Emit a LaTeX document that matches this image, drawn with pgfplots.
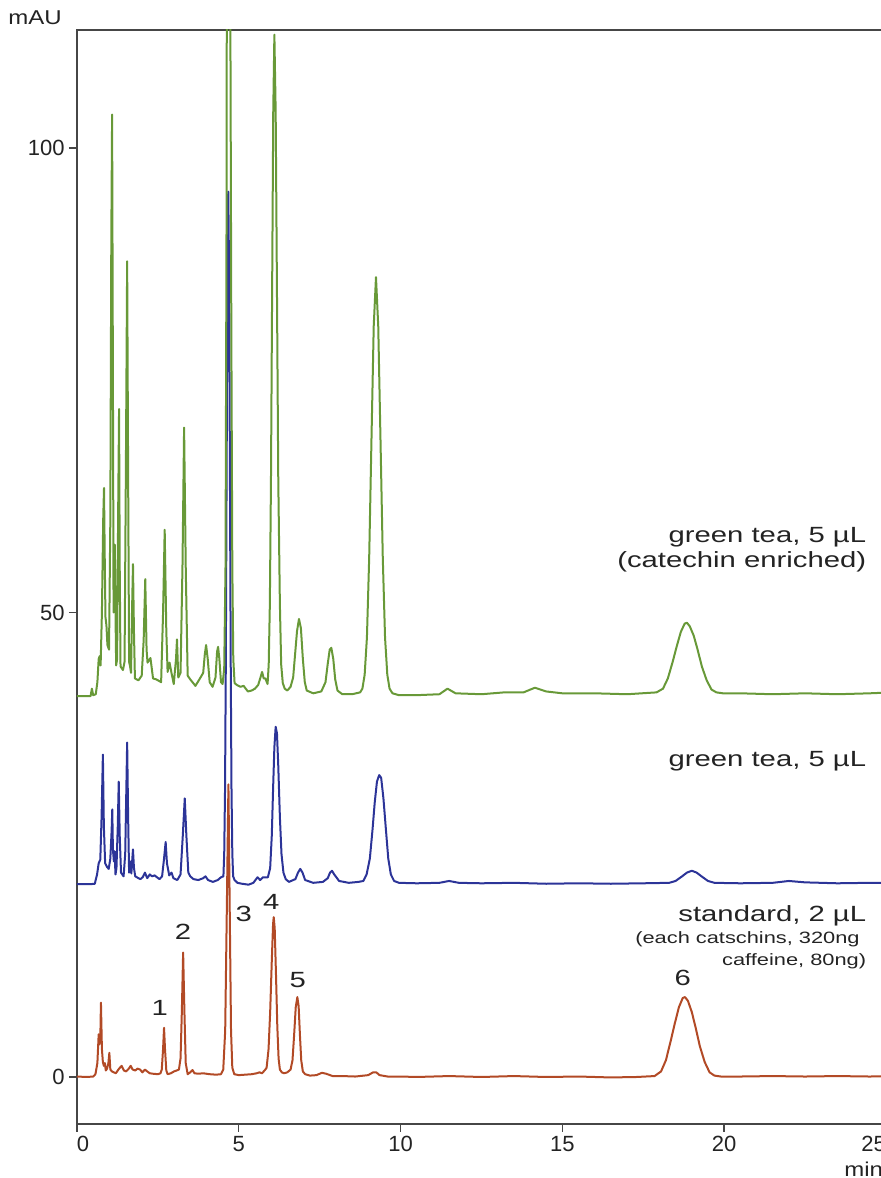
\documentclass[border=0pt]{standalone}
\usepackage{fontspec}
\setmainfont{Liberation Sans}
\newfontfamily\af[FakeStretch=1.33]{Liberation Sans}
\newfontfamily\mf[FakeStretch=1.2]{Liberation Sans}
\usepackage{pgfplots}
\pgfplotsset{compat=1.18}
\definecolor{cgreen}{RGB}{104,153,56}
\definecolor{cblue}{RGB}{44,52,152}
\definecolor{cred}{RGB}{178,74,38}
\definecolor{cax}{RGB}{70,70,70}
\definecolor{ctxt}{RGB}{35,35,35}
\tikzset{
    lbl/.style={inner sep=0pt, text=ctxt, font=\af\fontsize{11}{13}\selectfont},
    sml/.style={inner sep=0pt, text=ctxt, font=\af\fontsize{8.2}{10}\selectfont},
}

\begin{document}
\begin{tikzpicture}
\begin{axis}[
    at={(0,0)}, anchor=south west,
    scale only axis, width=407.7pt, height=547pt,
    xmin=0, xmax=25.2, ymin=-5.06, ymax=112.7,
    xtick={0,5,10,15,20,25},
    xticklabels={{\makebox[0pt][l]{0}},5,10,15,20,{\makebox[0pt][r]{25}}},
    ytick={0,50,100},
    tick pos=left,
    tick align=outside,
    major tick length=4pt,
    axis line style={cax, line width=0.7pt},
    tick style={cax, line width=0.7pt},
    ticklabel style={font=\fontsize{11}{13}\selectfont, text=ctxt, inner sep=2pt},
    /pgf/number format/assume math mode=true,
    clip mode=individual,
    every axis plot/.append style={line width=1pt, line join=round},
]
% standard, 2 uL
\addplot[cred] coordinates {
(0,0.05)(0.3,0.0)(0.5,0.05)(0.57,0.3)(0.63,1.5)(0.67,4.6)(0.69,3.5)(0.72,4.0)(0.74,8.0)(0.77,3.0)
(0.80,1.6)(0.83,1.2)(0.86,1.5)(0.89,0.7)(0.93,0.9)(0.97,1.5)(1.00,2.6)(1.03,0.8)(1.08,0.6)(1.2,0.4)
(1.3,0.9)(1.38,1.2)(1.45,0.7)(1.52,0.6)(1.6,0.9)(1.66,1.2)(1.72,0.8)(1.8,0.7)(1.87,0.9)(1.95,0.8)
(2.02,0.5)(2.1,0.8)(2.17,0.6)(2.25,0.4)(2.35,0.35)(2.5,0.3)(2.58,0.4)(2.62,0.8)(2.66,3.0)(2.69,5.3)
(2.72,3.0)(2.76,0.7)(2.8,0.3)(2.9,0.4)(3.0,0.6)(3.08,0.7)(3.15,0.8)(3.2,2.0)(3.24,7.0)(3.28,13.4)
(3.32,7.0)(3.36,1.5)(3.42,0.3)(3.5,0.5)(3.57,0.75)(3.63,0.4)(3.75,0.35)(3.9,0.4)(4.1,0.3)(4.3,0.25)
(4.45,0.3)(4.52,0.8)(4.58,5)(4.63,18)(4.68,31.5)(4.72,18)(4.76,5)(4.8,1.0)(4.86,0.3)(5.0,0.2)
(5.2,0.25)(5.4,0.3)(5.55,0.4)(5.64,0.5)(5.72,0.4)(5.82,0.8)(5.86,1.0)(5.92,3.0)(5.97,7.0)(6.02,12.5)
(6.06,16.5)(6.08,17.2)(6.11,16.0)(6.15,11)(6.19,5.5)(6.23,2.0)(6.27,0.8)(6.33,0.5)(6.4,0.4)(6.5,0.5)
(6.6,0.8)(6.66,1.8)(6.71,4.5)(6.76,7.5)(6.81,8.6)(6.85,7.6)(6.89,4.5)(6.93,1.8)(6.98,0.6)(7.05,0.3)
(7.2,0.15)(7.4,0.2)(7.57,0.45)(7.7,0.35)(7.9,0.1)(8.2,0.1)(8.6,0.05)(9.0,0.2)(9.15,0.5)(9.25,0.5)
(9.35,0.2)(9.6,0.05)(10,0.05)(10.5,0.0)(11.5,0.1)(12.5,0.0)(13.5,0.1)(14.5,0.0)(15.5,0.05)(16.5,-0.05)
(17.3,0.0)(17.85,0.1)(18.05,0.6)(18.2,1.8)(18.35,3.9)(18.47,5.7)(18.6,7.5)(18.72,8.5)(18.79,8.6)(18.88,8.2)
(19.0,7.0)(19.12,5.3)(19.25,3.3)(19.4,1.6)(19.55,0.5)(19.7,0.15)(19.9,0.05)(20.5,0.05)(21.5,0.1)(22.5,0.05)
(23.5,0.1)(24.5,0.05)(25.2,0.1)
};
% green tea, 5 uL
\addplot[cblue] coordinates {
(0,20.75)(0.4,20.75)(0.55,20.8)(0.62,21.8)(0.67,23.0)(0.72,23.4)(0.76,28)(0.80,34.7)(0.83,27)(0.87,23.0)
(0.93,22.6)(0.98,22.4)(1.03,23.5)(1.07,26.5)(1.09,28.8)(1.11,24.5)(1.14,23.2)(1.16,24.3)(1.19,21.8)(1.22,22.5)
(1.26,27)(1.29,31.8)(1.32,26)(1.36,22.0)(1.44,21.6)(1.49,24)(1.52,30)(1.55,36.0)(1.58,28)(1.61,22.0)
(1.65,23.2)(1.68,21.9)(1.71,23.5)(1.73,24.5)(1.76,22.5)(1.8,21.6)(1.9,21.4)(1.96,21.3)(2.03,21.5)(2.1,22.0)
(2.17,21.4)(2.25,21.8)(2.32,21.6)(2.4,21.7)(2.47,21.5)(2.55,21.3)(2.63,21.6)(2.69,23.5)(2.74,25.3)(2.78,23.0)
(2.85,21.7)(2.92,22.0)(2.98,21.4)(3.1,21.2)(3.2,21.8)(3.27,26)(3.33,30.0)(3.38,26)(3.44,22.0)(3.5,21.6)
(3.6,21.3)(3.75,21.2)(3.9,21.4)(3.97,21.6)(4.05,21.2)(4.2,21.0)(4.35,21.2)(4.45,21.5)(4.525,21.6)(4.55,24.1)
(4.575,30.9)(4.6,45.0)(4.625,66.0)(4.65,86.5)(4.675,95.3)(4.70,86.5)(4.725,66.0)(4.75,45)(4.775,30.9)(4.80,24.1)
(4.825,21.6)(4.87,21.2)(4.96,20.9)(5.1,20.8)(5.3,20.7)(5.45,20.9)(5.58,21.5)(5.66,21.2)(5.75,21.5)(5.9,21.5)
(5.97,22.5)(6.02,26)(6.06,31)(6.1,35.5)(6.14,37.7)(6.18,37.0)(6.22,33.5)(6.27,28)(6.32,24)(6.38,22)
(6.45,21.3)(6.55,21.0)(6.75,21.3)(6.83,22.0)(6.9,22.4)(6.97,22.0)(7.05,21.2)(7.3,20.9)(7.6,21.0)(7.75,21.4)
(7.82,22.0)(7.88,22.2)(7.95,21.8)(8.1,21.1)(8.4,20.9)(8.7,21.0)(8.85,21.1)(8.95,21.8)(9.05,23.5)(9.13,26.5)
(9.2,29.5)(9.27,31.8)(9.34,32.5)(9.4,32.2)(9.47,30)(9.55,26.5)(9.62,23.5)(9.7,21.8)(9.8,21.1)(9.95,20.9)
(10.5,20.85)(11.2,20.9)(11.5,21.1)(11.8,20.9)(12.5,20.85)(13.5,20.9)(14.5,20.8)(15.5,20.85)(16.5,20.8)(17.5,20.85)
(18.3,20.9)(18.5,21.1)(18.7,21.6)(18.85,22.0)(19.0,22.2)(19.15,22.0)(19.3,21.6)(19.5,21.1)(19.7,20.9)(20.5,20.85)
(21.5,20.9)(22.0,21.1)(22.5,20.95)(23.5,20.85)(24.5,20.9)(25.2,20.9)
};
% green tea, 5 uL (catechin enriched)
\addplot[cgreen] coordinates {
(0,41.0)(0.42,41.0)(0.46,41.8)(0.5,41.1)(0.58,41.2)(0.63,42.5)(0.67,45.0)(0.7,45.3)(0.73,44.3)(0.77,50)
(0.81,60)(0.835,63.4)(0.86,55)(0.88,49.5)(0.91,48.6)(0.94,46.5)(0.99,46.0)(1.03,60)(1.06,90)(1.085,103.6)
(1.11,75)(1.13,50)(1.15,55)(1.17,57.3)(1.19,50)(1.21,44.3)(1.24,45)(1.27,60)(1.30,71.9)(1.32,55)
(1.345,44.2)(1.42,43.8)(1.47,44.7)(1.51,65)(1.55,87.8)(1.58,65)(1.61,44.7)(1.64,44.2)(1.67,43.5)(1.7,50)
(1.73,55.2)(1.76,48)(1.79,42.9)(1.9,42.7)(2.0,43.2)(2.06,47)(2.11,53.6)(2.15,46)(2.18,44.6)(2.27,45.1)
(2.35,42.9)(2.45,42.8)(2.6,42.5)(2.66,50)(2.71,58.9)(2.76,48)(2.8,43.6)(2.86,44.6)(2.92,43.5)(2.99,42.3)
(3.06,45)(3.09,47.1)(3.13,43.0)(3.2,43.5)(3.26,55)(3.31,69.9)(3.36,55)(3.42,43.2)(3.5,42.8)(3.66,42.1)
(3.8,42.9)(3.9,43.5)(3.95,45.5)(3.99,46.5)(4.04,45)(4.1,42.5)(4.19,42.0)(4.28,43.0)(4.33,45.8)(4.36,46.3)
(4.4,45)(4.45,42.5)(4.5,42.3)(4.55,44)(4.59,55)(4.62,90)(4.635,130)(4.675,150)(4.73,125)(4.77,80)
(4.80,55)(4.83,45)(4.87,42.4)(4.94,42.2)(5.05,42.0)(5.15,42.1)(5.28,41.5)(5.4,41.6)(5.5,41.8)(5.6,42.2)
(5.67,43.0)(5.72,43.6)(5.77,42.9)(5.82,42.9)(5.89,42.3)(5.925,44.4)(5.96,50.9)(5.995,64.4)(6.03,84.4)(6.065,103.9)
(6.10,112.2)(6.14,103.9)(6.18,84.4)(6.22,64.4)(6.27,50.9)(6.31,44.4)(6.36,42.4)(6.42,41.8)(6.5,41.6)(6.6,42.0)
(6.68,43)(6.74,45.5)(6.8,48)(6.86,49.3)(6.92,48.3)(6.98,45)(7.04,42.5)(7.1,41.6)(7.3,41.3)(7.55,41.5)
(7.68,42.5)(7.75,44.5)(7.81,46)(7.86,46.2)(7.92,45)(7.98,42.8)(8.05,41.6)(8.2,41.2)(8.5,41.2)(8.75,41.4)
(8.82,41.8)(8.89,43.3)(8.96,47.3)(9.03,55.9)(9.10,68.5)(9.17,80.8)(9.24,86.1)(9.31,80.8)(9.38,68.5)(9.45,55.9)
(9.52,47.3)(9.59,43.3)(9.66,41.8)(9.75,41.3)(9.95,41.1)(10.5,41.1)(11.2,41.2)(11.45,41.8)(11.7,41.3)(12.5,41.2)
(13.2,41.4)(13.8,41.4)(14.15,41.9)(14.5,41.5)(15,41.3)(16,41.3)(17,41.2)(17.91,41.4)(18.11,41.8)(18.26,42.9)
(18.41,44.7)(18.53,46.3)(18.66,47.9)(18.78,48.8)(18.85,48.9)(18.94,48.5)(19.06,47.5)(19.18,46.0)(19.31,44.2)(19.46,42.7)
(19.61,41.7)(19.76,41.4)(19.96,41.3)(20.5,41.3)(21.5,41.2)(22.5,41.3)(23.5,41.2)(24.5,41.3)(25.2,41.4)
};
% labels
\node[lbl, anchor=base east] at (axis cs:24.40,57.5) {green tea, 5 µL};
\node[lbl, anchor=base east] at (axis cs:24.40,54.8) {(catechin enriched)};
\node[lbl, anchor=base east] at (axis cs:24.40,33.4) {green tea, 5 µL};
\node[lbl, anchor=base east] at (axis cs:24.40,16.7) {standard, 2 µL};
\node[sml, anchor=base east] at (axis cs:24.20,14.4) {(each catschins, 320ng};
\node[sml, anchor=base east] at (axis cs:24.40,11.95) {caffeine, 80ng)};
\node[lbl, anchor=base] at (axis cs:2.56,6.57) {1};
\node[lbl, anchor=base] at (axis cs:3.28,14.8) {2};
\node[lbl, anchor=base] at (axis cs:5.15,16.7) {3};
\node[lbl, anchor=base] at (axis cs:6.00,18.0) {4};
\node[lbl, anchor=base] at (axis cs:6.82,9.65) {5};
\node[lbl, anchor=base] at (axis cs:18.72,9.8) {6};
\node[inner sep=0pt, anchor=base east, font=\mf\fontsize{10}{12}\selectfont, text=ctxt] at ([xshift=-7.5pt,yshift=2.5pt]rel axis cs:0,1) {mAU};
\node[inner sep=0pt, anchor=base west, font=\mf\fontsize{10}{12}\selectfont, text=ctxt] at ([yshift=-26pt]axis cs:23.70,-5.06) {min};
\end{axis}
\pgfresetboundingbox
\path[use as bounding box] (-38.5pt,-27pt) rectangle (401.5pt,562pt);
\end{tikzpicture}
\end{document}
